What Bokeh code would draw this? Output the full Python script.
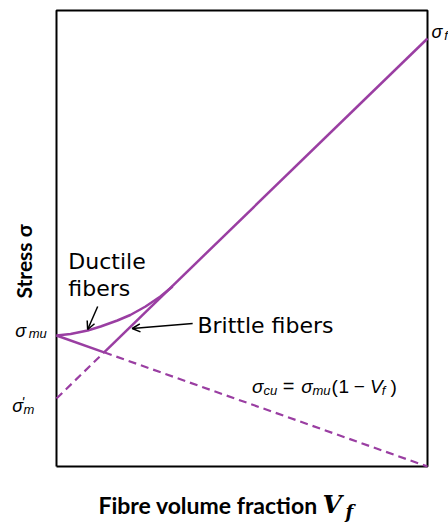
import numpy as np
from bokeh.plotting import figure
from bokeh.models import Range1d, Arrow, OpenHead
from bokeh.core.properties import value
from bokeh.embed import file_html
from bokeh.resources import INLINE

# Characteristic stresses (arbitrary stress units) and fibre fraction axis
vf_max = 1.0
sigma_top = 4.56          # top of the plotting box
sigma_mu = 1.31           # matrix stress at failure
sigma_m_prime = 0.68      # matrix stress at fibre failure strain
sigma_f = 4.28            # fibre strength

# Ductile-fibre curve (Vf, stress), merging into the brittle-fibre line
ductile_vf = [0.0, 0.038, 0.084, 0.119, 0.164, 0.199, 0.240, 0.280, 0.313]
ductile_sigma = [1.31, 1.325, 1.36, 1.40, 1.46, 1.515, 1.60, 1.70, 1.80]

PURPLE = "#9a3ea2"
TEXT_FONT = value("DejaVu Sans")
MATH_FONT = value("Liberation Sans")
LABEL_FONT = value("Lato")
SERIF = value("DejaVu Serif")

# Crossing of the fibre-controlled line and the matrix-controlled line
slope_f = (sigma_f - sigma_m_prime) / vf_max
vf_min = (sigma_mu - sigma_m_prime) / (slope_f + sigma_mu / vf_max)
sigma_min = sigma_mu * (1 - vf_min / vf_max)

p = figure(width=448, height=523, output_backend="svg", toolbar_location=None,
           x_range=Range1d(-0.15094, 1.05660), y_range=Range1d(-0.57, 4.66),
           x_axis_location=None, y_axis_location=None, min_border=0)
p.grid.visible = False
p.outline_line_color = None
p.background_fill_color = "white"
p.border_fill_color = "white"

# Plot box
p.line([0, 0, vf_max, vf_max, 0], [0, sigma_top, sigma_top, 0, 0],
       line_color="black", line_width=2)

# Brittle fibres: sigma_c = sigma_m' + (sigma_f - sigma_m') Vf
p.line([0, vf_min], [sigma_m_prime, sigma_min], line_color=PURPLE,
       line_width=2.2, line_dash="8 5")
p.line([vf_min, vf_max], [sigma_min, sigma_f], line_color=PURPLE, line_width=2.5)

# Matrix-controlled failure: sigma_cu = sigma_mu (1 - Vf)
p.line([0, vf_min], [sigma_mu, sigma_min], line_color=PURPLE, line_width=2.5)
p.line([vf_min, vf_max], [sigma_min, 0], line_color=PURPLE,
       line_width=2.2, line_dash="8 5")

# Ductile fibres
p.line(ductile_vf, ductile_sigma, line_color=PURPLE, line_width=2.5)

# Pointer arrows
p.add_layout(Arrow(x_start=0.111, y_start=1.60, x_end=0.084, y_end=1.37,
                   line_color="black", line_width=1.5,
                   end=OpenHead(size=8, line_color="black", line_width=1.5)))
p.add_layout(Arrow(x_start=0.367, y_start=1.43, x_end=0.204, y_end=1.38,
                   line_color="black", line_width=1.5,
                   end=OpenHead(size=8, line_color="black", line_width=1.5)))


def txt(x, y, s, size, font=TEXT_FONT, style="normal", angle=0.0, align="left"):
    # y is the intended baseline; the svg text sits a little low, so lift it
    p.text(x=[x], y=[y + 0.0033 * size], text=[s], text_font=font,
           text_font_size=f"{size}px", text_font_style=style,
           text_color="black", text_align=align,
           text_baseline="alphabetic", angle=angle)


# Curve annotations
txt(0.032, 1.98, "Ductile", 22)
txt(0.032, 1.71, "fibers", 22)
txt(0.380, 1.34, "Brittle fibers", 22)

# sigma_cu = sigma_mu (1 - Vf)
txt(0.527, 0.74, "σ", 19, MATH_FONT, "italic")
txt(0.558, 0.72, "cu", 13, MATH_FONT, "italic")
txt(0.610, 0.74, "=", 20, MATH_FONT)
txt(0.660, 0.74, "σ", 19, MATH_FONT, "italic")
txt(0.690, 0.72, "mu", 13, MATH_FONT, "italic")
txt(0.741, 0.74, "(", 19, MATH_FONT)
txt(0.760, 0.74, "1", 19, MATH_FONT)
txt(0.801, 0.74, "−", 19, MATH_FONT)
txt(0.845, 0.74, "V", 19, MATH_FONT, "italic")
txt(0.877, 0.72, "f", 13, MATH_FONT, "italic")
txt(0.900, 0.74, ")", 19, MATH_FONT)

# Stress markers on the left edge and at the right end
txt(-0.111, 1.30, "σ", 18, MATH_FONT, "italic")
txt(-0.075, 1.29, "mu", 13, MATH_FONT, "italic")
txt(-0.119, 0.55, "σ", 18, MATH_FONT, "italic")
txt(-0.094, 0.60, "'", 14, MATH_FONT, "italic")
txt(-0.089, 0.53, "m", 13, MATH_FONT, "italic")
txt(1.011, 4.29, "σ", 18, MATH_FONT, "italic")
txt(1.045, 4.27, "f", 13, MATH_FONT, "italic")

# Axis titles
txt(0.113, -0.46, "Fibre volume fraction", 23, LABEL_FONT, "bold")
txt(0.717, -0.46, "V", 25, SERIF, "bold italic")
txt(0.779, -0.51, "f", 18, SERIF, "bold italic")
p.text(x=[-0.089], y=[1.68], text=["Stress σ"], text_font=LABEL_FONT,
       text_font_size="21px", text_font_style="bold", text_color="black",
       text_baseline="alphabetic", angle=np.pi / 2)

open("out.html", "w").write(file_html(p, INLINE))
